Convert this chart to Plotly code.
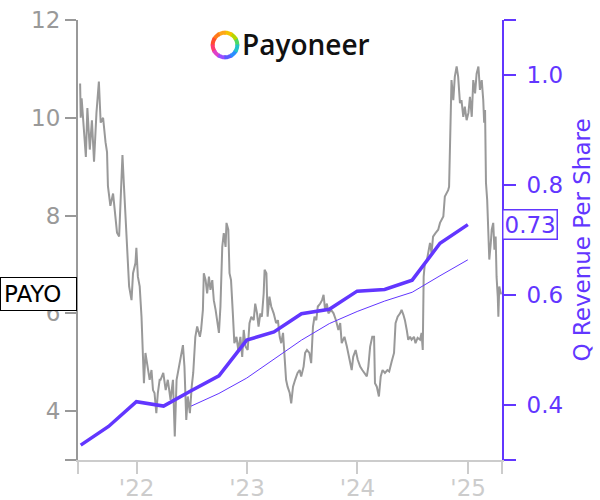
import math
import plotly.graph_objects as go

# ---------------- data ----------------
price_dates = [
    "2021-06-28", "2021-06-30", "2021-07-03", "2021-07-11", "2021-07-17", "2021-07-22", "2021-07-30",
    "2021-08-06", "2021-08-13", "2021-08-21", "2021-08-29", "2021-09-04", "2021-09-12", "2021-09-20",
    "2021-09-25", "2021-09-28", "2021-10-06", "2021-10-15", "2021-10-20", "2021-10-28", "2021-11-04",
    "2021-11-09", "2021-11-15", "2021-11-20", "2021-11-26", "2021-12-01", "2021-12-07", "2021-12-15",
    "2021-12-20", "2021-12-28", "2021-12-31", "2022-01-05", "2022-01-11", "2022-01-17", "2022-01-22",
    "2022-01-25", "2022-01-30", "2022-02-05", "2022-02-13", "2022-02-19", "2022-02-24", "2022-03-01",
    "2022-03-07", "2022-03-12", "2022-03-18",
    "2022-03-21", "2022-03-30", "2022-04-07", "2022-04-14", "2022-04-23", "2022-05-01", "2022-05-07",
    "2022-05-13", "2022-05-21", "2022-05-28", "2022-06-03", "2022-06-08", "2022-06-14", "2022-06-19",
    "2022-06-26", "2022-07-02", "2022-07-07", "2022-07-14", "2022-07-20", "2022-07-29", "2022-08-02",
    "2022-08-08", "2022-08-11", "2022-08-17", "2022-08-22", "2022-08-28", "2022-09-02", "2022-09-08",
    "2022-09-13", "2022-09-19", "2022-09-24", "2022-09-30", "2022-10-05", "2022-10-11", "2022-10-16",
    "2022-10-22", "2022-10-25", "2022-10-31", "2022-11-04", "2022-11-09", "2022-11-15", "2022-11-20",
    "2022-11-27", "2022-12-03", "2022-12-10", "2022-12-16", "2022-12-21", "2022-12-27",
    "2023-01-03", "2023-01-09", "2023-01-15", "2023-01-23", "2023-01-28", "2023-02-03", "2023-02-08",
    "2023-02-14", "2023-02-19", "2023-02-25", "2023-02-28", "2023-03-06", "2023-03-10", "2023-03-16",
    "2023-03-22", "2023-03-30", "2023-04-07", "2023-04-13", "2023-04-19", "2023-04-24", "2023-04-30",
    "2023-05-05", "2023-05-10", "2023-05-15", "2023-05-22", "2023-05-27", "2023-06-02", "2023-06-09",
    "2023-06-17", "2023-06-24", "2023-06-29", "2023-07-07", "2023-07-12", "2023-07-18", "2023-07-26",
    "2023-08-01", "2023-08-07", "2023-08-12", "2023-08-18", "2023-08-23", "2023-08-31", "2023-09-06",
    "2023-09-11", "2023-09-16", "2023-09-22", "2023-09-27", "2023-10-06", "2023-10-14", "2023-10-22",
    "2023-10-30", "2023-11-05",
    "2023-11-10", "2023-11-19", "2023-11-27", "2023-12-04", "2023-12-13", "2023-12-18", "2023-12-26",
    "2024-01-02", "2024-01-10", "2024-01-17", "2024-01-24", "2024-02-01", "2024-02-06", "2024-02-12",
    "2024-02-19", "2024-02-25", "2024-02-28", "2024-03-05", "2024-03-12", "2024-03-18", "2024-03-24",
    "2024-04-01", "2024-04-09", "2024-04-15", "2024-04-23", "2024-05-01", "2024-05-06", "2024-05-13",
    "2024-05-21", "2024-05-26", "2024-06-01", "2024-06-06", "2024-06-12", "2024-06-17", "2024-06-23",
    "2024-06-28", "2024-07-06", "2024-07-11", "2024-07-18", "2024-07-26", "2024-07-31", "2024-08-04",
    "2024-08-07", "2024-08-11", "2024-08-18", "2024-08-28",
    "2024-09-02", "2024-09-07", "2024-09-15", "2024-09-24", "2024-09-30", "2024-10-05", "2024-10-11",
    "2024-10-16", "2024-10-22", "2024-10-27", "2024-10-30", "2024-11-03", "2024-11-07", "2024-11-13",
    "2024-11-18", "2024-11-24", "2024-11-29", "2024-12-05", "2024-12-10", "2024-12-16", "2024-12-21",
    "2024-12-27", "2025-01-02", "2025-01-07", "2025-01-13", "2025-01-18", "2025-01-24", "2025-01-29",
    "2025-02-04", "2025-02-09", "2025-02-15", "2025-02-20", "2025-02-23", "2025-02-26", "2025-03-01",
    "2025-03-05", "2025-03-09", "2025-03-12", "2025-03-17", "2025-03-20", "2025-03-25", "2025-03-29",
    "2025-04-02", "2025-04-05", "2025-04-09", "2025-04-11", "2025-04-14", "2025-04-19", "2025-04-22",
]
price_values = [
    10.7, 10.0, 10.4, 9.8, 9.2, 10.2, 9.35,
    9.95, 9.1, 10.1, 10.74, 9.9, 10.0, 9.5,
    9.3, 8.6, 8.2, 8.45, 8.1, 7.65, 7.57,
    8.45, 9.24, 8.6, 7.85, 7.1, 6.55, 6.27,
    6.82, 7.03, 7.34, 6.75, 6.55, 5.93, 5.19,
    4.57, 5.19, 4.91, 4.64, 4.84, 4.43, 4.37,
    3.96, 4.37, 4.64,
    4.64, 4.78, 4.43, 4.64, 4.23, 4.64, 3.48,
    4.64, 4.91, 5.19, 5.35, 4.91, 3.82, 4.3,
    3.96, 4.5, 4.78, 5.52, 5.73, 5.52, 5.66,
    6.07, 6.82, 6.68, 6.41, 6.75, 6.48, 6.68,
    6.27, 6.07, 5.8, 5.6, 6.14, 7.36, 7.64,
    7.36, 7.85, 7.71, 6.82, 6.68, 6.0, 5.39,
    5.52, 5.25, 5.52, 5.11, 5.66, 5.32,
    5.25, 5.8, 5.93, 5.86, 6.2, 6.0, 5.73,
    6.0, 5.93, 6.41, 6.89, 6.82, 5.93, 6.34,
    6.14, 6.0, 5.8, 5.86, 5.52, 5.39, 5.6,
    5.19, 4.64, 4.5, 4.37, 4.16, 4.5, 4.64,
    4.78, 4.84, 4.71, 4.91, 5.19, 5.25, 5.19,
    4.98, 5.73, 5.93, 5.86, 6.14, 6.2, 6.27,
    6.38, 6.07, 6.2, 6.0, 6.07, 6.0, 5.86,
    5.66, 5.8,
    5.39, 5.52, 5.32, 5.11, 4.84, 5.11, 5.25,
    5.05, 4.91, 4.84, 4.78, 4.71, 4.91, 5.32,
    5.52, 5.52, 4.57, 4.5, 4.3, 4.71, 4.84,
    4.78, 4.84, 4.81, 5.01, 5.19, 5.8, 5.93,
    6.0, 6.07, 5.97, 5.86, 5.66, 5.46, 5.52,
    5.46, 5.52, 5.39, 5.5, 5.46, 5.6, 5.25,
    6.75, 7.03, 7.1, 7.44,
    7.23, 7.57, 7.64, 7.71, 7.85, 7.91, 7.98,
    8.39, 8.45, 8.52, 8.59, 10.02, 10.77, 10.36,
    10.84, 11.05, 10.84, 10.3, 10.36, 10.02, 10.23,
    9.95, 10.1, 10.43, 10.02, 10.77, 10.5, 10.9,
    11.05, 10.57, 10.77, 10.36, 9.9, 10.16, 8.67,
    8.32, 7.3, 7.1, 7.44, 7.71, 7.85, 7.3,
    7.57, 6.75, 6.34, 5.93, 6.55, 6.41, 6.4,
]

quarter_dates = [
    "2021-06-30", "2021-09-30", "2021-12-31", "2022-03-31", "2022-06-30", "2022-09-30",
    "2022-12-31", "2023-03-31", "2023-06-30", "2023-09-30", "2023-12-31", "2024-03-31",
    "2024-06-30", "2024-09-30", "2024-12-31",
]
q_rev_per_share = [
    0.327, 0.361, 0.406, 0.398, 0.426, 0.453,
    0.518, 0.533, 0.566, 0.574, 0.607, 0.610,
    0.627, 0.694, 0.728,
]

ttm_dates = [
    "2022-06-30", "2022-09-30", "2022-12-31", "2023-03-31", "2023-06-30", "2023-09-30",
    "2023-12-31", "2024-03-31", "2024-06-30", "2024-09-30", "2024-12-31",
]
ttm_rev_per_share = [
    0.398, 0.421, 0.449, 0.483, 0.518, 0.548,
    0.570, 0.589, 0.605, 0.635, 0.664,
]

x_range = ["2021-06-21", "2025-04-23"]
x_tickvals = [x_range[0], "2022-01-01", "2023-01-01", "2024-01-01", "2025-01-01", x_range[1]]
x_ticktext = ["", "'22", "'23", "'24", "'25", ""]
y_range = [3, 12]
y_tickvals = [3, 4, 6, 8, 10, 12]
y_ticktext = ["", "4", "6", "8", "10", "12"]
y2_range = [0.3, 1.1]
y2_tickvals = [0.3, 0.4, 0.6, 0.8, 1.0, 1.1]
y2_ticktext = ["", "0.4", "0.6", "0.8", "1.0", ""]

ticker = "PAYO"
last_rev_label = "0.73"

# ---------------- styling ----------------
PURPLE = "#6236FF"
GRAY = "#999999"
LIGHT = "#cccccc"
FONT = "DejaVu Sans"
FS = 23

fig = go.Figure()
fig.add_trace(go.Scatter(x=price_dates, y=price_values, mode="lines",
                         line=dict(color=GRAY, width=2), yaxis="y", hoverinfo="skip"))
fig.add_trace(go.Scatter(x=ttm_dates, y=ttm_rev_per_share, mode="lines",
                         line=dict(color=PURPLE, width=1), yaxis="y2"))
fig.add_trace(go.Scatter(x=quarter_dates, y=q_rev_per_share, mode="lines",
                         line=dict(color=PURPLE, width=3.5), yaxis="y2"))

L, R, T, B = 78, 98, 20, 40
W, H = 600, 500
PW, PH = W - L - R, H - T - B

fig.update_layout(
    width=W, height=H,
    margin=dict(l=L, r=R, t=T, b=B, pad=0, autoexpand=False),
    paper_bgcolor="white", plot_bgcolor="white",
    showlegend=False,
    font=dict(family=FONT, size=FS),
    xaxis=dict(type="date", range=x_range, tickvals=x_tickvals, ticktext=x_ticktext,
               automargin=False, ticklabelstandoff=-6,
               showgrid=False, zeroline=False, showline=True, linecolor=LIGHT, linewidth=2,
               ticks="outside", ticklen=12, tickwidth=2, tickcolor=LIGHT,
               tickfont=dict(color=LIGHT, size=FS, family=FONT)),
    yaxis=dict(range=y_range, tickvals=y_tickvals, ticktext=y_ticktext, automargin=False,
               showgrid=False, zeroline=False, showline=True, linecolor=GRAY, linewidth=2,
               ticks="outside", ticklen=11, tickwidth=2, tickcolor=GRAY,
               tickfont=dict(color=GRAY, size=FS, family=FONT)),
    yaxis2=dict(overlaying="y", side="right", range=y2_range, tickvals=y2_tickvals,
                ticktext=y2_ticktext, automargin=False, showgrid=False, zeroline=False,
                showline=True, ticklabelstandoff=6,
                linecolor=PURPLE, linewidth=2, ticks="outside", ticklen=12, tickwidth=2,
                tickcolor=PURPLE, tickfont=dict(color=PURPLE, size=FS, family=FONT),
                title=dict(text="Q Revenue Per Share", font=dict(color=PURPLE, size=FS, family=FONT),
                           standoff=12)),
)

# ticker label box on left axis at last price
fig.add_annotation(x=-L / PW, xref="paper", xanchor="left", y=price_values[-1], yref="y",
                   yanchor="middle", text=ticker, showarrow=False, align="left", width=69,
                   font=dict(color="black", size=FS, family=FONT),
                   bgcolor="white", bordercolor="black", borderwidth=1, borderpad=3)
# last value label on right axis
fig.add_annotation(x=1, xref="paper", xanchor="left", y=q_rev_per_share[-1], yref="y2",
                   yanchor="middle", text=last_rev_label, showarrow=False,
                   font=dict(color=PURPLE, size=FS, family=FONT),
                   bgcolor="white", bordercolor=PURPLE, borderwidth=1.5, borderpad=1)

# Payoneer logo: text + multicolour ring
fig.add_annotation(x=(306 - L) / PW, y=(H - B - 44) / PH, xref="paper", yref="paper",
                   text="Payoneer", showarrow=False, xanchor="center", yanchor="middle",
                   font=dict(color="#111111", size=28, family="Open Sans", weight=600))
ring_colors = ["#4cd964", "#b8d600", "#f5c400", "#ffa51a", "#ff7a1a", "#ff4d2e",
               "#ff3d6e", "#e040c8", "#9b4dff", "#5b5bff", "#2a8cff", "#22c3c8"]
cx, cy, rad = (225 - L) / PW, (H - B - 45) / PH, 12.3
nseg = len(ring_colors)
for i, col in enumerate(ring_colors):
    a0 = 2 * math.pi * i / nseg - 0.05
    a1 = 2 * math.pi * (i + 1) / nseg + 0.05
    pts = []
    for k in range(7):
        a = a0 + (a1 - a0) * k / 6
        pts.append((rad * math.cos(a), rad * math.sin(a)))
    path = "M " + " L ".join(f"{px:.2f},{py:.2f}" for px, py in pts)
    fig.add_shape(type="path", xref="paper", yref="paper", xsizemode="pixel", ysizemode="pixel",
                  xanchor=cx, yanchor=cy, path=path, line=dict(color=col, width=4))

fig.write_html("out.html", config={"displayModeBar": False},
               post_script="document.body.style.margin='0';document.body.style.overflow='hidden';")
